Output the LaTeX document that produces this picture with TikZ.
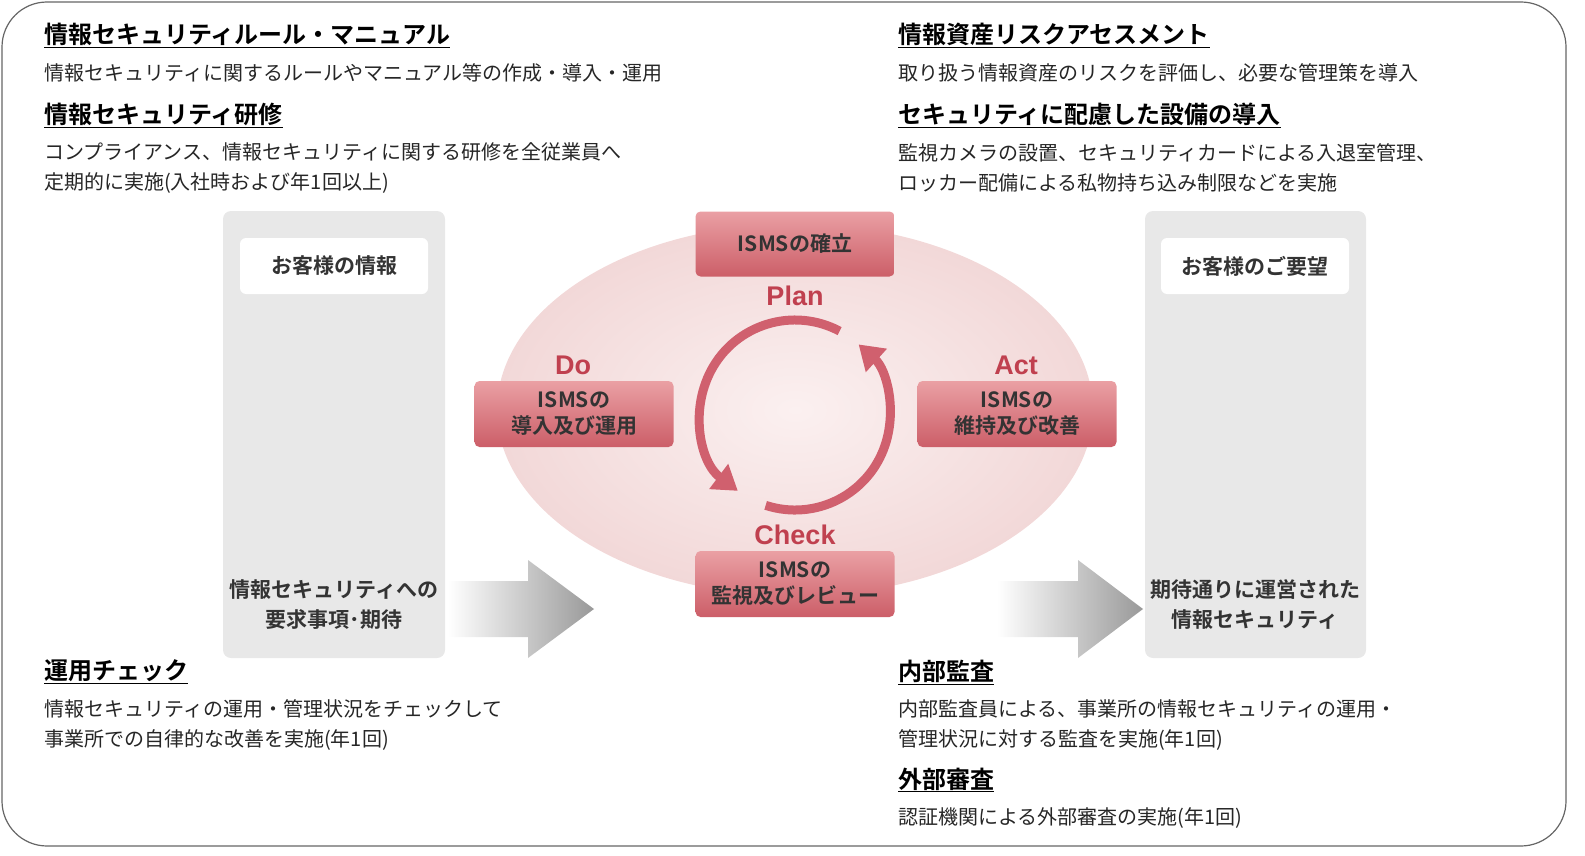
\documentclass[tikz,border=0pt]{standalone}
\usepackage{fontspec}
\setmainfont{Noto Sans CJK JP}[BoldFont=* Bold]
\newfontfamily\latinb{Liberation Sans}
\usetikzlibrary{arrows.meta,shapes.geometric}
\definecolor{redtxt}{HTML}{C0404F}
\definecolor{arc}{HTML}{D0606E}
\definecolor{panel}{HTML}{E8E8E8}
\definecolor{ellin}{HTML}{FBF0F0}
\definecolor{ellout}{HTML}{F2D8D8}
\definecolor{boxtop}{HTML}{EAA0A4}
\definecolor{boxbot}{HTML}{CC5E68}
\tikzset{
 head/.style={anchor=west,font=\bfseries\fontsize{24}{28}\selectfont,inner sep=0},
 body/.style={anchor=west,font=\fontsize{20}{30}\selectfont,inner sep=0,align=left,text=black!85},
 redbox/.style={rounded corners=5pt,top color=boxtop,bottom color=boxbot,draw=none,align=center,font=\bfseries\fontsize{21}{26}\selectfont,text=black!80},
 pdca/.style={font=\latinb\bfseries\fontsize{27}{30}\selectfont,text=redtxt},
 whitebox/.style={fill=white,rounded corners=6pt,font=\bfseries\fontsize{21}{26}\selectfont,text=black!80},
 ptext/.style={font=\bfseries\fontsize{21}{30}\selectfont,align=center,text=black!80},
 bigarrow/.style={left color=white,right color=black!40,draw=none},
 cyc/.style={draw=arc,line width=9pt,-{Triangle[length=24pt,width=30pt]}}
}
\begin{document}
\begin{tikzpicture}[x=1pt,y=-1pt]
\useasboundingbox (0,0) rectangle (1585,856);
\draw[black!60,line width=1.2pt,rounded corners=45pt] (2,2) rectangle (1566,846);
\node[head] (h1) at (44,35) {\underline{情報セキュリティルール・マニュアル}};
\node[body] (b1) at (44,73) {情報セキュリティに関するルールやマニュアル等の作成・導入・運用};
\node[head] (h2) at (44,115) {\underline{情報セキュリティ研修}};
\node[body] (b2) at (44,168) {コンプライアンス、情報セキュリティに関する研修を全従業員へ\\定期的に実施(入社時および年1回以上)};
\node[head] (h3) at (898,35) {\underline{情報資産リスクアセスメント}};
\node[body] (b3) at (898,73) {取り扱う情報資産のリスクを評価し、必要な管理策を導入};
\node[head] (h4) at (898,115) {\underline{セキュリティに配慮した設備の導入}};
\node[body] (b4) at (898,168) {監視カメラの設置、セキュリティカードによる入退室管理、\\ロッカー配備による私物持ち込み制限などを実施};
\node[head] (h5) at (44,672) {\underline{運用チェック}};
\node[body] (b5) at (44,725) {情報セキュリティの運用・管理状況をチェックして\\事業所での自律的な改善を実施(年1回)};
\node[head] (h6) at (898,672) {\underline{内部監査}};
\node[body] (b6) at (898,725) {内部監査員による、事業所の情報セキュリティの運用・\\管理状況に対する監査を実施(年1回)};
\node[head] (h7) at (898,780) {\underline{外部審査}};
\node[body] (b7) at (898,818) {認証機関による外部審査の実施(年1回)};
\fill[panel,rounded corners=8pt] (223,211) rectangle (445,658);
\fill[panel,rounded corners=8pt] (1145,211) rectangle (1366,658);
\node[whitebox,minimum width=188pt,minimum height=56pt] (w1) at (334,266) {お客様の情報};
\node[whitebox,minimum width=188pt,minimum height=56pt] (w2) at (1255,266) {お客様のご要望};
\node[ptext] (p1) at (334,605) {情報セキュリティへの\\要求事項･期待};
\node[ptext] (p2) at (1255,605) {期待通りに運営された\\情報セキュリティ};
\path[bigarrow] (448,581) -- (528,581) -- (528,560) -- (594,609) -- (528,658) -- (528,637) -- (448,637) -- cycle;
\path[bigarrow] (997,581) -- (1078,581) -- (1078,560) -- (1143,609) -- (1078,658) -- (1078,637) -- (997,637) -- cycle;
\shade[inner color=ellin,outer color=ellout] (795,410) ellipse [x radius=298,y radius=186];
\coordinate (cc) at (795,415);
\draw[cyc] ([shift={(-62:95)}]cc) arc[start angle=-62,end angle=-233,radius=95];
\draw[cyc] ([shift={(-252:95)}]cc) arc[start angle=-252,end angle=-408,radius=95];
\node[redbox,minimum width=199pt,minimum height=65pt] (pl) at (795,244) {ISMSの確立};
\node[redbox,minimum width=199pt,minimum height=66pt] (do) at (574,414) {ISMSの\\導入及び運用};
\node[redbox,minimum width=199pt,minimum height=66pt] (ac) at (1017,414) {ISMSの\\維持及び改善};
\node[redbox,minimum width=199pt,minimum height=66pt] (ch) at (795,584) {ISMSの\\監視及びレビュー};
\node[pdca] (lp) at (795,296) {Plan};
\node[pdca] (ld) at (573,365) {Do};
\node[pdca] (la) at (1016,365) {Act};
\node[pdca] (lc) at (795,535) {Check};
\end{tikzpicture}
\end{document}
